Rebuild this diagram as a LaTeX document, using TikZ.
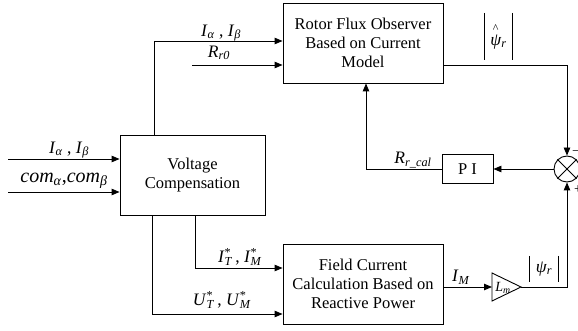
\documentclass[tikz,border=0pt]{standalone}
\usepackage{fontspec}
\setmainfont{Liberation Serif}
\usetikzlibrary{arrows.meta}
\newcommand{\iv}[1]{\textit{#1}}
\newcommand{\sbs}[1]{\textsubscript{\textit{#1}}}
\newcommand{\supsub}[2]{\rlap{\textsuperscript{#1}}\textsubscript{\textit{#2}}}
\begin{document}
\begin{tikzpicture}[x=1pt,y=-1pt,
  blk/.style={draw,line width=0.9pt,align=center,inner sep=0,font=\fontsize{16.5}{19}\selectfont},
  con/.style={line width=0.9pt,-{Triangle[length=8pt,width=6.5pt]}},
  bar/.style={line width=0.9pt},
  lbl/.style={inner sep=0,font=\fontsize{17.5}{19}\selectfont}]
\useasboundingbox (0,0) rectangle (578,331);
% blocks
\node[blk,minimum width=160,minimum height=80] (rfo) at (363,43) {Rotor Flux Observer\\Based on Current\\Model};
\node[blk,minimum width=145,minimum height=80] (vc) at (192.5,175) {Voltage\\Compensation};
\node[blk,minimum width=160,minimum height=80] (fc) at (363,284) {Field Current\\Calculation Based on\\Reactive Power};
\node[blk,minimum width=51,minimum height=29] (pi) at (467.5,169) {P I};
\node[draw,line width=0.9pt,circle,minimum size=26,inner sep=0] (sum) at (567,169) {};
\draw[bar] (sum.north west) -- (sum.south east) (sum.north east) -- (sum.south west);
% gain triangle
\coordinate (gin) at (492,287);
\coordinate (gout) at (521,287);
\draw[bar,line join=miter] (492,273) -- (gout) -- (492,301) -- cycle;
\node[inner sep=0,font=\fontsize{14}{16}\selectfont] (lm) at (503,288) {\iv{L}\sbs{m}};
% connectors
\coordinate (a1) at (8,159);
\coordinate (a2) at (8,192);
\draw[con] (a1) -- (a1 -| vc.west);
\draw[con] (a2) -- (a2 -| vc.west);
\coordinate (b1) at (154,41);
\draw[con] (b1 |- vc.north) |- (b1 -| rfo.west);
\coordinate (b2) at (192,65);
\draw[con] (b2) -- (b2 -| rfo.west);
\coordinate (c1) at (443,65);
\draw[con] (c1 -| rfo.east) -| (sum.north);
\draw[con] (sum.west) -- (pi.east);
\coordinate (d1) at (366,0);
\draw[con] (pi.west) -| (d1 |- rfo.south);
\coordinate (e1) at (195,268);
\draw[con] (e1 |- vc.south) |- (e1 -| fc.west);
\coordinate (e2) at (152,314);
\draw[con] (e2 |- vc.south) |- (e2 -| fc.west);
\draw[con] (gin -| fc.east) -- (gin);
\draw[con] (gout) -| (sum.south);
% labels
\node[lbl] (l1) at (221,33) {\iv{I}\sbs{α} , \iv{I}\sbs{β}};
\node[lbl] (l2) at (219,53) {\iv{R}\sbs{r0}};
\node[lbl,minimum width=27,minimum height=47] (l3) at (498.5,36.5) {\makebox[0pt][l]{\raisebox{13pt}{\hspace{2.5pt}\fontsize{12}{12}\selectfont\^{}}}\iv{ψ}\sbs{r}};
\draw[bar] (l3.north west) -- (l3.south west) (l3.north east) -- (l3.south east);
\node[lbl] (l4) at (413,160) {\iv{R}\sbs{r\_cal}};
\node[lbl] (l5) at (69,150) {\iv{I}\sbs{α} , \iv{I}\sbs{β}};
\node[lbl,font=\fontsize{20}{21}\selectfont] (l6) at (64,181) {\iv{com}\sbs{α},\iv{com}\sbs{β}};
\node[lbl] (l7) at (240,257) {\iv{I}\supsub{*}{T}\,, \iv{I}\supsub{*}{M}};
\node[lbl] (l8) at (222,300) {\iv{U}\supsub{*}{T}\,, \iv{U}\supsub{*}{M}};
\node[lbl] (l9) at (461,277) {\iv{I}\sbs{M}};
\node[lbl,minimum width=28,minimum height=26] (l10) at (544,269) {\iv{ψ}\sbs{r}};
\draw[bar] (l10.north west) -- (l10.south west) (l10.north east) -- (l10.south east);
\node[lbl,font=\fontsize{14}{14}\selectfont] (m1) at (576,153) {−};
\node[lbl,font=\fontsize{14}{14}\selectfont] (p1) at (578,190) {+};
\end{tikzpicture}
\end{document}
